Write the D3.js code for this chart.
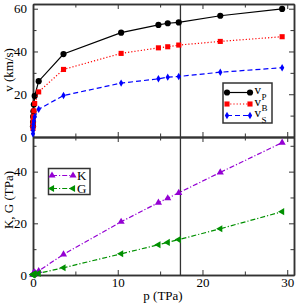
<!DOCTYPE html>
<html>
<head>
<meta charset="utf-8">
<script src="https://cdn.jsdelivr.net/npm/d3@7"></script>
<style>
body { margin: 0; background: #fff; }
</style>
</head>
<body>
<svg width="296" height="305"></svg>
<script>
// pressure points (TPa)
var pressure = [0.0, 0.005, 0.02, 0.05, 0.1, 0.2, 0.67, 3.6, 10.4, 14.8, 15.9, 17.2, 22.1, 29.4];
// sound velocities (km/s)
var vP = [5, 7, 9.5, 12, 15.2, 19.2, 26.1, 38.8, 48.8, 52.4, 53.2, 53.6, 56.7, 59.9];
var vB = [4, 5.5, 7.5, 9.5, 12.2, 15.7, 21.1, 31.6, 39.1, 41.7, 42.2, 43.0, 44.7, 46.9];
var vS = [1.5, 3, 4.5, 6, 7.5, 9.4, 13.0, 19.4, 25.2, 27.2, 28.0, 28.3, 30.3, 32.4];
// moduli (TPa)
var bulkK = [0.1, 0.2, 0.3, 0.5, 0.7, 1.0, 1.55, 8.0, 20.6, 28.0, 29.7, 31.8, 39.7, 51.2];
var shearG = [0.05, 0.1, 0.15, 0.25, 0.35, 0.5, 0.65, 2.8, 8.2, 11.7, 12.6, 13.7, 17.9, 24.5];

var markP = 17.4;
var xMajor = [0, 10, 20, 30], xMinor = [5, 15, 25];
var vMajor = [0, 20, 40, 60], vMinor = [10, 30, 50];
var mMajor = [0, 20, 40], mMinor = [10, 30, 50];

var svg = d3.select('svg');
var left = 33, right = 294;
var frame = '#333';
var serif = '"Liberation Serif", "Times New Roman", "DejaVu Serif", serif';

var x = d3.scaleLinear().domain([0, 30.8]).range([left, right]);
var yTop = d3.scaleLinear().domain([0, 62.2]).range([137, 4]);
var yBot = d3.scaleLinear().domain([0, 53.4]).range([275, 137]);

function drawFrame(y, major, minor, bottomLabels) {
    var t = y.range()[1], b = y.range()[0];
    var g = svg.append('g');
    // left
    g.append('g').attr('transform', 'translate(' + left + ',0)')
        .call(d3.axisLeft(y).tickValues(major).tickSize(-5).tickSizeOuter(0).tickPadding(6));
    g.append('g').attr('transform', 'translate(' + left + ',0)')
        .call(d3.axisLeft(y).tickValues(minor).tickSize(-3.5).tickSizeOuter(0).tickFormat(''));
    // right
    g.append('g').attr('transform', 'translate(' + right + ',0)')
        .call(d3.axisRight(y).tickValues(major).tickSize(-5).tickSizeOuter(0).tickFormat(''));
    g.append('g').attr('transform', 'translate(' + right + ',0)')
        .call(d3.axisRight(y).tickValues(minor).tickSize(-3.5).tickSizeOuter(0).tickFormat(''));
    // top
    g.append('g').attr('transform', 'translate(0,' + t + ')')
        .call(d3.axisTop(x).tickValues(xMajor).tickSize(-5).tickSizeOuter(0).tickFormat(''));
    g.append('g').attr('transform', 'translate(0,' + t + ')')
        .call(d3.axisTop(x).tickValues(xMinor).tickSize(-3.5).tickSizeOuter(0).tickFormat(''));
    // bottom
    var bx = d3.axisBottom(x).tickValues(xMajor).tickSize(-5).tickSizeOuter(0).tickPadding(3);
    if (!bottomLabels) bx.tickFormat('');
    g.append('g').attr('transform', 'translate(0,' + b + ')').call(bx);
    g.append('g').attr('transform', 'translate(0,' + b + ')')
        .call(d3.axisBottom(x).tickValues(xMinor).tickSize(-3.5).tickSizeOuter(0).tickFormat(''));

    g.selectAll('.domain').attr('stroke', frame).attr('stroke-width', 1.5);
    g.selectAll('.tick line').attr('stroke', frame).attr('stroke-width', 1);
    g.selectAll('.tick text').style('font-size', '13px')
        .style('font-family', serif).attr('fill', '#000');
}

var symSquare = d3.symbol().type(d3.symbolSquare).size(26);
var symDiamond = d3.symbol().type(d3.symbolDiamond).size(16);
var symTri = d3.symbol().type(d3.symbolTriangle).size(22);

function series(y, vals, color, dash, marker) {
    var pts = pressure.map(function (p, i) { return [p, vals[i]]; });
    var line = d3.line().x(function (d) { return x(d[0]); }).y(function (d) { return y(d[1]); });
    svg.append('path').datum(pts).attr('d', line)
        .attr('fill', 'none').attr('stroke', color).attr('stroke-width', 1.2)
        .attr('stroke-dasharray', dash);
    svg.append('g').selectAll('path').data(pts).enter().append('path')
        .attr('transform', function (d) { return 'translate(' + x(d[0]) + ',' + y(d[1]) + ')'; })
        .call(marker);
}

function mk(kind, color) {
    return function (sel) {
        if (kind === 'circle') sel.attr('d', d3.symbol().type(d3.symbolCircle).size(30)());
        else if (kind === 'square') sel.attr('d', symSquare());
        else if (kind === 'diamond') sel.attr('d', symDiamond());
        else if (kind === 'triup') sel.attr('d', symTri());
        else if (kind === 'trileft') sel.attr('d', symTri()).attr('transform', function () {
            return d3.select(this).attr('transform') + ' rotate(-90)';
        });
        sel.attr('fill', color).attr('stroke', 'none');
    };
}

function label(sel, size) {
    return sel.style('font-family', serif).style('font-size', size + 'px').attr('fill', '#000');
}

drawFrame(yTop, vMajor, vMinor, false);
drawFrame(yBot, mMajor, mMinor, true);

// vertical marker line
svg.append('line').attr('x1', x(markP)).attr('x2', x(markP)).attr('y1', 4).attr('y2', 275)
    .attr('stroke', frame).attr('stroke-width', 1.3);

series(yTop, vP, '#000', null, mk('circle', '#000'));
series(yTop, vB, '#ff0000', '1.2,2', mk('square', '#ff0000'));
series(yTop, vS, '#0000ff', '5,3', mk('diamond', '#0000ff'));
series(yBot, bulkK, '#9400d3', '5,2,1.2,2', mk('triup', '#9400d3'));
series(yBot, shearG, '#009000', '5,2,1.2,2', mk('trileft', '#009000'));

// axis titles
label(svg.append('text').attr('transform', 'translate(12.5,70) rotate(-90)')
    .attr('text-anchor', 'middle').text('v (km/s)'), 13);
label(svg.append('text').attr('transform', 'translate(12.5,200) rotate(-90)')
    .attr('text-anchor', 'middle').text('K, G (TPa)'), 13);
label(svg.append('text').attr('x', 163).attr('y', 300)
    .attr('text-anchor', 'middle').text('p (TPa)'), 13);

// legends
var legTop = [
    {sub: 'P', color: '#000', dash: null, kind: 'circle'},
    {sub: 'B', color: '#ff0000', dash: '1.2,2', kind: 'square'},
    {sub: 'S', color: '#0000ff', dash: '5,3', kind: 'diamond'}
];
svg.append('rect').attr('x', 223).attr('y', 83).attr('width', 49).attr('height', 40)
    .attr('fill', '#fff').attr('stroke', frame).attr('stroke-width', 1.5);
legTop.forEach(function (d, i) {
    var ly = 92.5 + i * 11.5;
    svg.append('line').attr('x1', 227).attr('x2', 250).attr('y1', ly).attr('y2', ly)
        .attr('stroke', d.color).attr('stroke-width', 1.2).attr('stroke-dasharray', d.dash);
    svg.append('g').selectAll('path').data([227, 250]).enter().append('path')
        .attr('transform', function (px) { return 'translate(' + px + ',' + ly + ')'; })
        .call(mk(d.kind, d.color));
    var t = label(svg.append('text').attr('x', 254.5).attr('y', ly + 1.5), 13);
    t.append('tspan').text('v');
    t.append('tspan').style('font-size', '9px').attr('dx', 0.5).attr('dy', 5.5).text(d.sub);
});

var legBot = [
    {name: 'K', color: '#9400d3', kind: 'triup'},
    {name: 'G', color: '#009000', kind: 'trileft'}
];
svg.append('rect').attr('x', 48.5).attr('y', 168.5).attr('width', 41.5).attr('height', 26)
    .attr('fill', '#fff').attr('stroke', frame).attr('stroke-width', 1.5);
legBot.forEach(function (d, i) {
    var ly = 175.5 + i * 13;
    svg.append('line').attr('x1', 52).attr('x2', 73).attr('y1', ly).attr('y2', ly)
        .attr('stroke', d.color).attr('stroke-width', 1.2).attr('stroke-dasharray', '5,2,1.2,2');
    svg.append('g').selectAll('path').data([52, 73]).enter().append('path')
        .attr('transform', function (px) { return 'translate(' + px + ',' + ly + ')'; })
        .call(mk(d.kind, d.color));
    label(svg.append('text').attr('x', 77).attr('y', ly + 4.5), 13).text(d.name);
});
</script>
</body>
</html>
